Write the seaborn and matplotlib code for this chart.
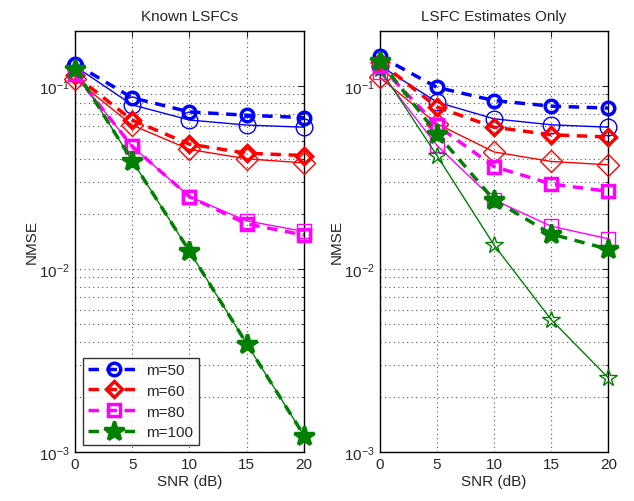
import numpy as np
import pandas as pd
import seaborn as sns
import matplotlib.pyplot as plt
from matplotlib.ticker import LogLocator, NullFormatter

snr = [0, 5, 10, 15, 20]
labels = ["m=50", "m=60", "m=80", "m=100"]
colors = ["#0000ff", "#ff0000", "#ff00ff", "#008000"]
markers = ["o", "D", "s", "*"]

# Known LSFCs: dashed (thick) and solid (thin) curves
known_dashed = {
    "m=50": [0.132, 0.086, 0.072, 0.069, 0.067],
    "m=60": [0.114, 0.065, 0.048, 0.0428, 0.0416],
    "m=80": [0.116, 0.0467, 0.0248, 0.0176, 0.0153],
    "m=100": [0.124, 0.039, 0.0125, 0.0039, 0.00123],
}
known_solid = {
    "m=50": [0.128, 0.0787, 0.065, 0.061, 0.0594],
    "m=60": [0.109, 0.061, 0.0449, 0.0399, 0.0379],
    "m=80": [0.116, 0.0467, 0.0248, 0.0183, 0.016],
    "m=100": [0.124, 0.039, 0.0125, 0.0039, 0.00123],
}

# LSFC estimates only
est_dashed = {
    "m=50": [0.145, 0.098, 0.083, 0.0774, 0.0755],
    "m=60": [0.135, 0.0765, 0.0594, 0.054, 0.0525],
    "m=80": [0.129, 0.0607, 0.0362, 0.0291, 0.0265],
    "m=100": [0.137, 0.0547, 0.0238, 0.0155, 0.0128],
}
est_solid = {
    "m=50": [0.129, 0.0814, 0.066, 0.0612, 0.0594],
    "m=60": [0.111, 0.062, 0.0435, 0.0386, 0.037],
    "m=80": [0.119, 0.0472, 0.0238, 0.0171, 0.0146],
    "m=100": [0.124, 0.0416, 0.0135, 0.00528, 0.00254],
}

sns.set_style("white")
plt.rcParams["font.family"] = ["Liberation Sans", "DejaVu Sans"]
plt.rcParams["font.size"] = 11

fig = plt.figure(figsize=(6.34, 5.02), dpi=100)
ax1 = fig.add_axes([0.118, 0.0976, 0.3615, 0.8394])
ax2 = fig.add_axes([0.599, 0.0976, 0.3605, 0.8394])

dash_sizes = {"o": 9, "D": 8, "s": 8, "*": 15}
solid_sizes = {"o": 12, "D": 11, "s": 10, "*": 13}


def draw_panel(ax, dashed, solid, title):
    for lab, c, mk in zip(labels, colors, markers):
        df = pd.DataFrame({"snr": snr, "nmse": solid[lab]})
        sns.lineplot(data=df, x="snr", y="nmse", ax=ax, color=c, linewidth=1.0,
                     marker=mk, markersize=solid_sizes[mk], markerfacecolor="none",
                     markeredgecolor=c, markeredgewidth=1.0, zorder=3, clip_on=False)
    for lab, c, mk in zip(labels, colors, markers):
        df = pd.DataFrame({"snr": snr, "nmse": dashed[lab]})
        face = c if mk == "*" else "none"
        sns.lineplot(data=df, x="snr", y="nmse", ax=ax, color=c, linewidth=2.5,
                     linestyle=(0, (3, 2.2)), marker=mk, markersize=dash_sizes[mk],
                     markerfacecolor=face, markeredgecolor=c, markeredgewidth=2.5,
                     label=lab, zorder=4, clip_on=False)
    ax.set_yscale("log")
    ax.set_xlim(0, 20)
    ax.set_ylim(1e-3, 0.2)
    ax.set_xticks(snr)
    ax.yaxis.set_major_locator(LogLocator(base=10, numticks=10))
    ax.yaxis.set_minor_locator(LogLocator(base=10, subs=np.arange(2, 10), numticks=20))
    ax.yaxis.set_minor_formatter(NullFormatter())
    ax.grid(True, which="major", axis="both", linestyle=(0, (1, 3)), color="#555555", linewidth=0.8)
    ax.grid(True, which="minor", axis="y", linestyle=(0, (1, 3)), color="#555555", linewidth=0.8)
    ax.tick_params(which="both", direction="in", top=True, right=True, length=4, labelsize=11)
    ax.tick_params(which="minor", length=2)
    for s in ax.spines.values():
        s.set_color("black")
        s.set_linewidth(1.0)
        s.set_zorder(2)
    ax.set_xlabel("SNR (dB)", fontsize=11, labelpad=2)
    ax.set_ylabel("NMSE", fontsize=11, labelpad=0)
    ax.set_title(title, fontsize=11, pad=8)


draw_panel(ax1, known_dashed, known_solid, "Known LSFCs")
draw_panel(ax2, est_dashed, est_solid, "LSFC Estimates Only")

leg = ax1.legend(loc="lower left", bbox_to_anchor=(0.035, 0.017), borderaxespad=0,
                 fontsize=11, frameon=True, fancybox=False, edgecolor="black",
                 handlelength=3.4, borderpad=0.35, labelspacing=0.45, handletextpad=0.4)
leg.get_frame().set_linewidth(1.0)
leg.set_zorder(10)
if ax2.legend_:
    ax2.legend_.remove()

fig.savefig("out.png", dpi=100)
